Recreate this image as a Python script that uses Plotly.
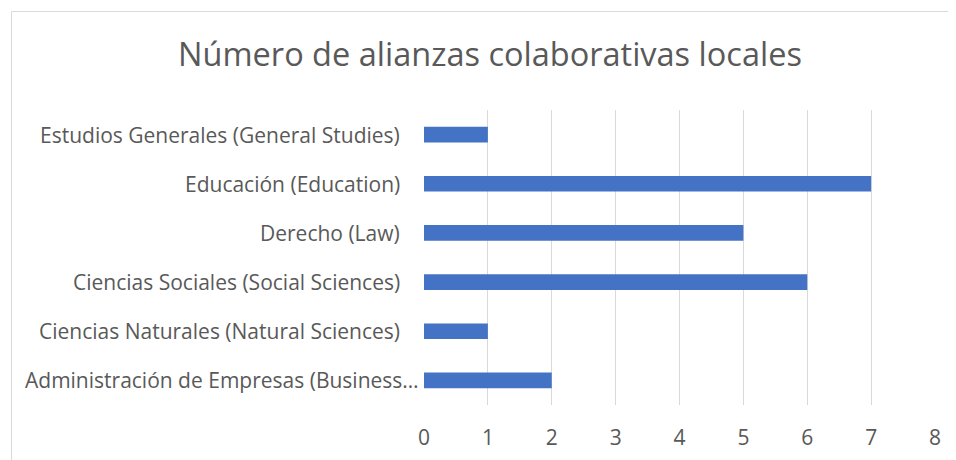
import plotly.graph_objects as go

categories = [
    "Administración de Empresas (Business…",
    "Ciencias Naturales (Natural Sciences)",
    "Ciencias Sociales (Social Sciences)",
    "Derecho (Law)",
    "Educación (Education)",
    "Estudios Generales (General Studies)",
]
values = [2, 1, 6, 5, 7, 1]
x_ticks = [0, 1, 2, 3, 4, 5, 6, 7, 8]

title_text = "Número de alianzas colaborativas locales"

FONT = "Open Sans"
TXT = "#595959"

# page body has an 8px margin; figure is sized so it ends at the window edge
W, H = 948, 452
OFF = 8
PL, PR, PT, PB = 424, 935, 110, 405  # plot area in window pixels

fig = go.Figure(
    go.Bar(
        x=values,
        y=categories,
        orientation="h",
        marker=dict(color="#4472C4", line=dict(width=0)),
        width=0.32,
        hoverinfo="x+y",
    )
)

# category labels: Excel places the truncated (ellipsis) label closer to the axis
label_annotations = [
    dict(
        text=c,
        xref="paper",
        yref="y",
        x=0,
        y=c,
        xanchor="right",
        yanchor="middle",
        xshift=-3 if c.endswith("…") else -22,
        showarrow=False,
        font=dict(family=FONT, size=21, color=TXT),
    )
    for c in categories
]

fig.update_layout(
    width=W,
    height=H,
    margin=dict(l=PL - OFF, r=W + OFF - PR, t=PT - OFF, b=H + OFF - PB),
    paper_bgcolor="white",
    plot_bgcolor="white",
    showlegend=False,
    title=dict(
        text=title_text,
        x=(490 - OFF) / W,
        xanchor="center",
        y=1 - (55 - OFF) / H,
        yanchor="middle",
        font=dict(family=FONT, size=32.5, color=TXT),
    ),
    xaxis=dict(
        range=[0, 8],
        tickvals=x_ticks,
        showgrid=True,
        gridcolor="#D9D9D9",
        gridwidth=1,
        zeroline=False,
        showline=False,
        ticks="",
        automargin=False,
        ticklabelstandoff=18,
        tickfont=dict(family=FONT, size=21, color=TXT),
    ),
    yaxis=dict(
        categoryorder="array",
        categoryarray=categories,
        showgrid=False,
        zeroline=False,
        showline=False,
        ticks="",
        automargin=False,
        showticklabels=False,
    ),
    annotations=label_annotations,
    shapes=[
        dict(
            type="rect",
            xref="paper",
            yref="paper",
            x0=(11.5 - PL) / (PR - PL),
            x1=(975 - PL) / (PR - PL),
            y0=(PB - 475) / (PB - PT),
            y1=(PB - 11.5) / (PB - PT),
            line=dict(color="#D9D9D9", width=1),
            fillcolor="rgba(0,0,0,0)",
            layer="below",
        )
    ],
)

fig.write_html("out.html")
